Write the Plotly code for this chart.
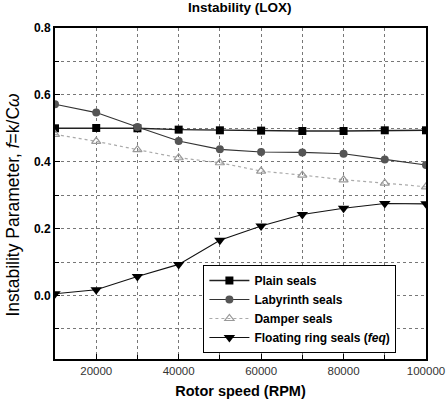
import plotly.graph_objects as go

rpm = [10000, 20000, 30000, 40000, 50000, 60000, 70000, 80000, 90000, 100000]
plain = [0.500, 0.501, 0.500, 0.496, 0.494, 0.493, 0.492, 0.492, 0.494, 0.494]
labyrinth = [0.572, 0.547, 0.504, 0.462, 0.437, 0.429, 0.428, 0.424, 0.407, 0.390]
damper = [0.482, 0.461, 0.436, 0.412, 0.397, 0.372, 0.360, 0.346, 0.336, 0.325]
floating = [0.005, 0.017, 0.057, 0.093, 0.165, 0.208, 0.242, 0.261, 0.275, 0.274]

names = ["Plain seals", "Labyrinth seals", "Damper seals", "Floating ring seals (<i>feq</i>)"]
x_ticks = [20000, 40000, 60000, 80000, 100000]
x_tick_text = ["20000", "40000", "60000", "80000", "100000"]

FONT = "Liberation Sans, Arial, sans-serif"

fig = go.Figure()
fig.add_trace(go.Scatter(
    x=rpm, y=plain, name="<b>" + names[0] + "</b>", mode="lines+markers",
    line=dict(color="#222222", width=1.4),
    marker=dict(symbol="square", size=8, color="#000000")))
fig.add_trace(go.Scatter(
    x=rpm, y=labyrinth, name="<b>" + names[1] + "</b>", mode="lines+markers",
    line=dict(color="#333333", width=1.1),
    marker=dict(symbol="circle", size=8, color="#555555")))
fig.add_trace(go.Scatter(
    x=rpm, y=damper, name="<b>" + names[2] + "</b>", mode="lines+markers",
    line=dict(color="#aaaaaa", width=1.2, dash="dot"),
    marker=dict(symbol="triangle-up-open", size=8, color="#999999", line=dict(width=1.2))))
fig.add_trace(go.Scatter(
    x=rpm, y=floating, name="<b>" + names[3] + "</b>", mode="lines+markers",
    line=dict(color="#111111", width=1.1),
    marker=dict(symbol="triangle-down", size=10, color="#000000")))

fig.update_layout(
    width=448, height=410,
    margin=dict(l=55, r=22, t=28, b=51, autoexpand=False),
    paper_bgcolor="white", plot_bgcolor="white",
    font=dict(family=FONT, color="#000000", size=11),
    title=dict(text="<b>Instability (LOX)</b>", x=0.535, xanchor="center",
               y=0.995, yanchor="top", font=dict(size=13.5)),
    showlegend=True,
    legend=dict(x=0.40, y=0.284, xanchor="left", yanchor="top",
                bgcolor="white", bordercolor="#000000", borderwidth=1,
                font=dict(size=12, family=FONT), tracegroupgap=0,
                itemwidth=40),
    xaxis=dict(
        range=[10000, 100000], tickmode="array", tickvals=x_ticks,
        ticktext=x_tick_text,
        ticklabeloverflow="allow", automargin=False,
        showgrid=True, gridcolor="#777777", griddash="dot", gridwidth=1,
        minor=dict(dtick=10000, tick0=0, showgrid=True, gridcolor="#777777", griddash="dot",
                   ticks="inside", ticklen=4, tickcolor="#000000"),
        ticks="inside", ticklen=5, tickcolor="#000000",
        showline=True, linecolor="#000000", linewidth=2, mirror=True,
        zeroline=False,
        tickfont=dict(size=11.5, family=FONT, color="#333333"),
        title=dict(text="<b>Rotor speed (RPM)</b>", font=dict(size=14.5), standoff=10),
    ),
    yaxis=dict(
        range=[-0.19, 0.8], tick0=0, dtick=0.2, tickformat=".1f",
        automargin=False,
        showgrid=True, gridcolor="#777777", griddash="dot", gridwidth=1,
        minor=dict(dtick=0.1, showgrid=True, gridcolor="#777777", griddash="dot",
                   ticks="inside", ticklen=4, tickcolor="#000000"),
        ticks="inside", ticklen=5, tickcolor="#000000",
        showline=True, linecolor="#000000", linewidth=2, mirror=True,
        zeroline=False,
        tickfont=dict(size=12, family=FONT),
        tickprefix="<b>", ticksuffix="</b>",
    ),
    annotations=[dict(
        text="Instability Parameter, <i>f</i>=k/C<i>ω</i>",
        textangle=-90, xref="paper", yref="paper",
        x=-0.112, y=0.468, xanchor="center", yanchor="middle",
        showarrow=False, font=dict(size=17.5, family=FONT),
    )],
)

fig.write_html("out.html")
